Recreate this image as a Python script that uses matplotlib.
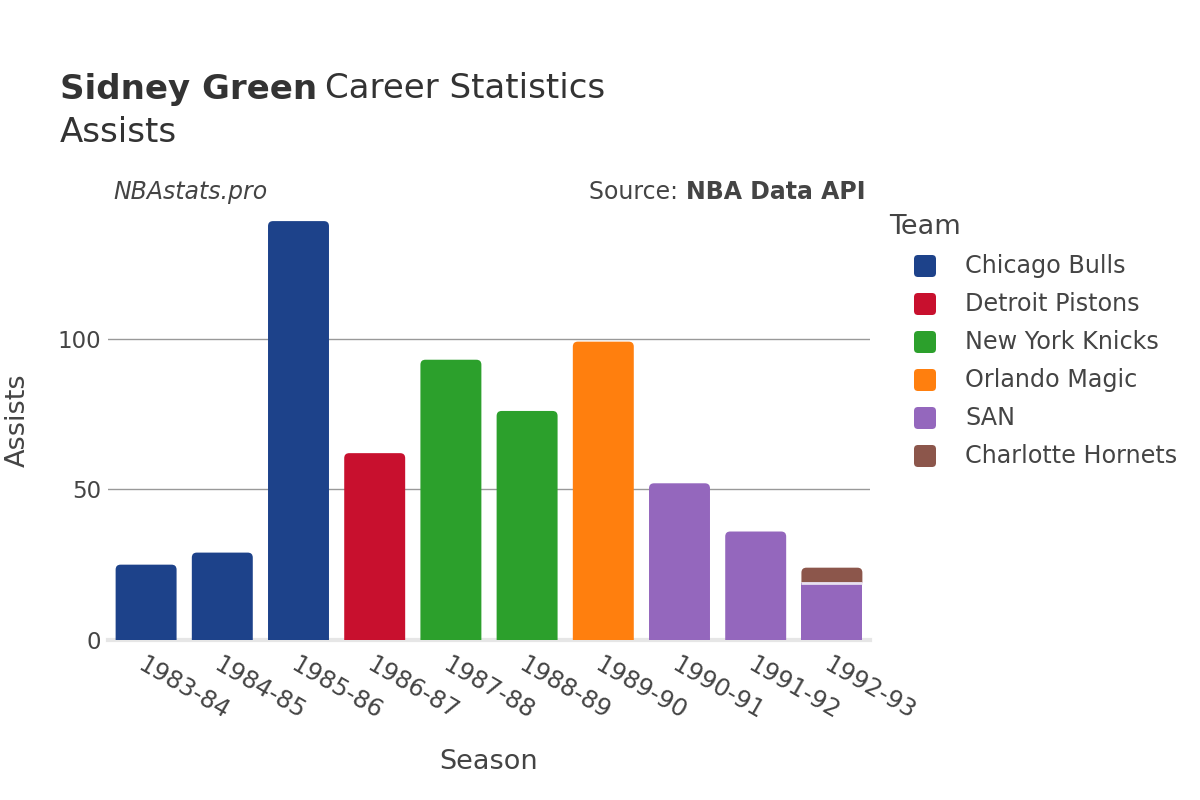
import matplotlib
matplotlib.use("Agg")
import matplotlib.pyplot as plt
from matplotlib.path import Path
from matplotlib.patches import PathPatch, FancyBboxPatch
from matplotlib.transforms import IdentityTransform
import numpy as np

plt.rcParams['font.family'] = ['DejaVu Sans']

seasons = ["1983-84", "1984-85", "1985-86", "1986-87", "1987-88",
           "1988-89", "1989-90", "1990-91", "1991-92", "1992-93"]
teams = ["Chicago Bulls", "Detroit Pistons", "New York Knicks",
         "Orlando Magic", "SAN", "Charlotte Hornets"]
team_colors = ["#1d428a", "#c8102e", "#2ca02c", "#ff7f0e", "#9467bd", "#8c564b"]

chicago_bulls     = [25, 29, 139, 0, 0, 0, 0, 0, 0, 0]
detroit_pistons   = [0, 0, 0, 62, 0, 0, 0, 0, 0, 0]
new_york_knicks   = [0, 0, 0, 0, 93, 76, 0, 0, 0, 0]
orlando_magic     = [0, 0, 0, 0, 0, 0, 99, 0, 0, 0]
san               = [0, 0, 0, 0, 0, 0, 0, 52, 36, 19]
charlotte_hornets = [0, 0, 0, 0, 0, 0, 0, 0, 0, 5]
series = [chicago_bulls, detroit_pistons, new_york_knicks,
          orlando_magic, san, charlotte_hornets]

W, H = 1200, 800
fig = plt.figure(figsize=(12, 8), dpi=100)
ax = fig.add_axes([108 / W, 160 / H, 762 / W, 440 / H])
ymax = 146
ax.set_xlim(-0.5, len(seasons) - 0.5)
ax.set_ylim(0, ymax)

px_x = 762 / len(seasons)
px_y = 440 / ymax
rad_px = 5
rx = rad_px / px_x
ry = rad_px / px_y

totals = np.sum(np.array(series), axis=0)
x = np.arange(len(seasons))
bw = 0.8
bottoms = np.zeros(len(seasons))


def top_round_path(x0, x1, y0, y1, rx, ry):
    ryy = min(ry, (y1 - y0))
    verts = [(x0, y0), (x1, y0), (x1, y1 - ryy), (x1, y1), (x1 - rx, y1),
             (x0 + rx, y1), (x0, y1), (x0, y1 - ryy), (x0, y0)]
    codes = [Path.MOVETO, Path.LINETO, Path.LINETO, Path.CURVE3, Path.CURVE3,
             Path.LINETO, Path.CURVE3, Path.CURVE3, Path.CLOSEPOLY]
    return Path(verts, codes)


for vals, col in zip(series, team_colors):
    vals = np.array(vals, dtype=float)
    bars = ax.bar(x, vals, bw, bottom=bottoms, color=col, zorder=2)
    for i, b in enumerate(bars):
        if vals[i] <= 0:
            b.set_visible(False)
            continue
        x0 = b.get_x()
        x1 = x0 + b.get_width()
        y0 = b.get_y()
        y1 = y0 + b.get_height()
        if np.isclose(y1, totals[i]):
            b.set_visible(False)
            p = PathPatch(top_round_path(x0, x1, y0, y1, rx, ry),
                          facecolor=col, edgecolor='none', zorder=2)
            ax.add_patch(p)
            if y0 > 0:
                ax.plot([x0, x1], [y0, y0], color='#e8e0f0', lw=2, zorder=3,
                        solid_capstyle='butt')
    bottoms += vals

# grid and zero line
for gy in [50, 100]:
    ax.axhline(gy, color='#999999', lw=1, zorder=1)
ax.axhline(0, color='#e6e6e6', lw=3, zorder=1, clip_on=False)

for s in ax.spines.values():
    s.set_visible(False)

ax.set_yticks([0, 50, 100])
ax.set_yticklabels(["0", "50", "100"])
ax.tick_params(axis='y', length=0, pad=5, labelsize=16.5, labelcolor='#444444')
ax.set_xticks(x)
ax.set_xticklabels(seasons, rotation=-30, ha='left', va='top',
                   rotation_mode='anchor')
ax.tick_params(axis='x', length=0, pad=9, labelsize=17.5, labelcolor='#444444')

ax.set_ylabel("Assists", fontsize=19.5, color='#444444', va='center')
ax.yaxis.set_label_coords(-0.118, 0.5)
ax.set_xlabel("Season", fontsize=19.5, color='#444444')
ax.xaxis.set_label_coords(0.5, -0.247)

# title
renderer = fig.canvas.get_renderer()
t1 = fig.text(60 / W, 1 - 89 / H, "Sidney Green", fontsize=24.5,
              fontweight='bold', color='#333333', va='center', ha='left')
bb = t1.get_window_extent(renderer)
fig.text((bb.x1 + 8) / W, 1 - 89 / H, "Career Statistics", fontsize=24.5,
         color='#333333', va='center', ha='left')
fig.text(60 / W, 1 - 132 / H, "Assists", fontsize=24.5, color='#333333',
         va='center', ha='left')

# annotations
fig.text(113 / W, 1 - 192 / H, "NBAstats.pro", fontsize=17, style='italic',
         color='#444444', va='center', ha='left')
t2 = fig.text(866 / W, 1 - 192 / H, "NBA Data API", fontsize=17,
              fontweight='bold', color='#444444', va='center', ha='right')
bb2 = t2.get_window_extent(renderer)
fig.text((bb2.x0 - 1) / W, 1 - 192 / H, "Source: ", fontsize=17,
         color='#444444', va='center', ha='right')

# legend
fig.text(889 / W, 1 - 227 / H, "Team", fontsize=19.5, color='#444444',
         va='center', ha='left')
for i, (name, col) in enumerate(zip(teams, team_colors)):
    yc = 266 + 38 * i
    sq = FancyBboxPatch((914, H - yc - 11), 22, 22,
                        boxstyle="round,pad=0,rounding_size=4",
                        transform=IdentityTransform(), facecolor=col,
                        edgecolor='none')
    fig.patches.append(sq)
    fig.text(965 / W, 1 - yc / H, name, fontsize=17.2, color='#444444',
             va='center', ha='left')

fig.savefig("out.png", dpi=100, facecolor='white')
